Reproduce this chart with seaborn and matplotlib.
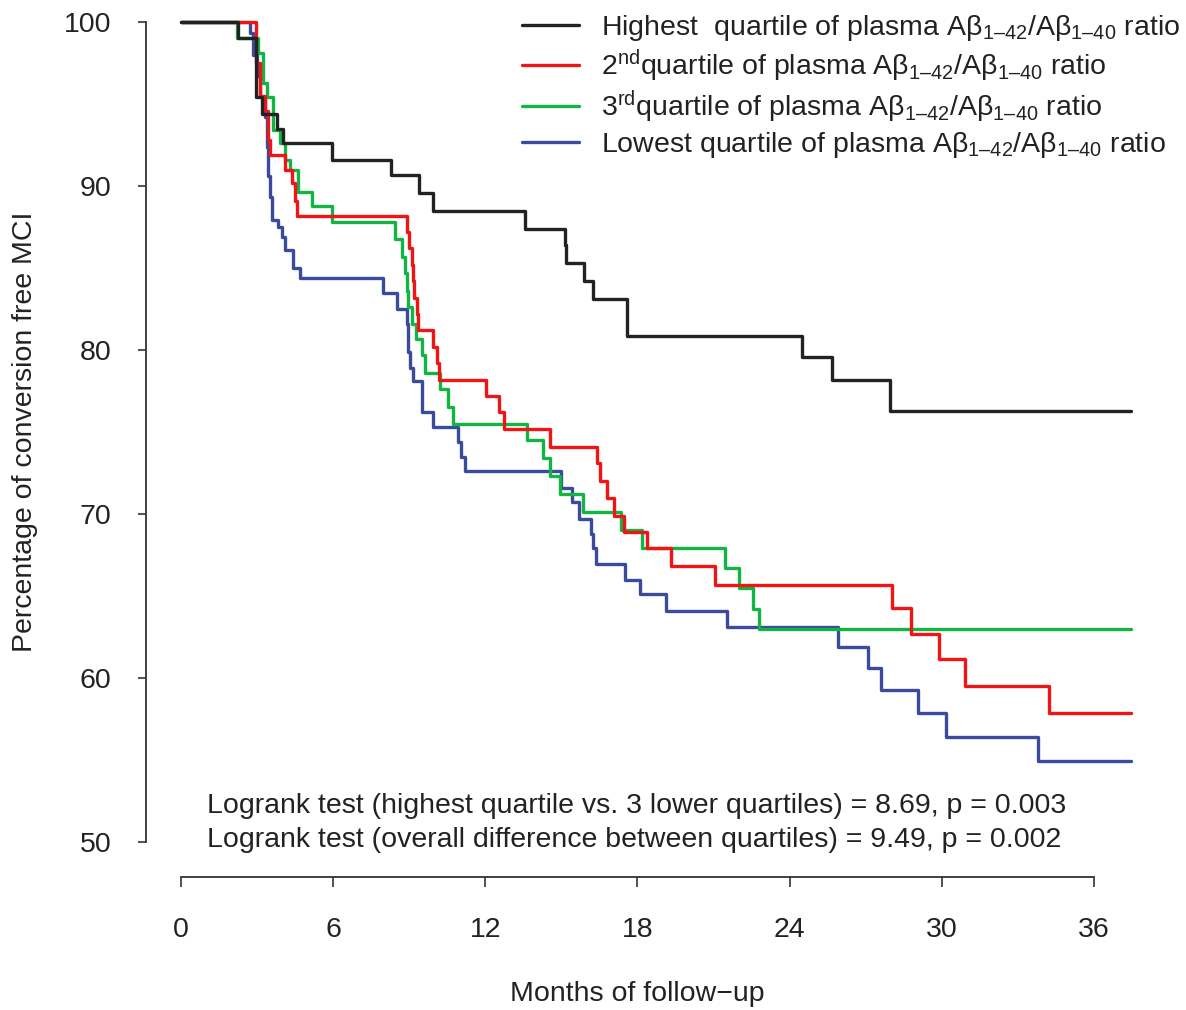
import numpy as np
import pandas as pd
import matplotlib
matplotlib.use("Agg")
import matplotlib.pyplot as plt
import seaborn as sns

# ---------------- data ----------------
END_TIME = 37.47

hi_t = [2.25, 2.97, 3.20, 3.77, 4.03, 5.94, 8.27, 9.40, 9.93, 13.58, 15.14, 15.20,
        15.89, 16.25, 17.57, 24.50, 25.68, 27.95]
hi_s = [99.0, 95.4, 94.4, 93.5, 92.6, 91.6, 90.7, 89.6, 88.5, 87.4, 86.4, 85.3,
        84.2, 83.1, 80.85, 79.6, 78.2, 76.3]

q2_t = [2.96, 3.10, 3.30, 3.45, 3.52, 4.10, 4.36, 4.50, 4.56,
        8.90, 8.99, 9.09, 9.14, 9.17, 9.29, 9.35, 9.92, 10.08, 10.17,
        12.02, 12.54, 12.73,
        14.54, 16.42, 16.54, 16.78, 17.08, 17.47, 18.39, 19.31, 21.05,
        28.05, 28.77, 29.89, 30.90, 34.23]
q2_s = [97.5, 95.5, 94.6, 92.8, 91.9, 91.0, 90.2, 89.1, 88.2,
        87.2, 86.2, 85.2, 84.2, 83.2, 82.2, 81.2, 80.2, 79.2, 78.2,
        77.2, 76.2, 75.2,
        74.1, 73.1, 72.0, 71.0, 69.9, 68.9, 67.9, 66.85, 65.7,
        64.25, 62.7, 61.15, 59.5, 57.85]

q3_t = [2.19, 3.04, 3.22, 3.40, 3.62, 3.90, 4.10, 4.30, 4.63, 5.15, 5.94, 8.43,
        8.70, 8.83, 8.90, 8.96, 9.09, 9.26, 9.49, 9.62, 10.20, 10.54, 10.71,
        13.63, 14.26, 14.57, 14.94, 15.86, 17.34, 18.16, 21.44, 22.00, 22.56, 22.80]
q3_s = [99.0, 98.1, 96.3, 95.4, 93.4, 92.6, 91.6, 91.0, 89.65, 88.75, 87.8, 86.75,
        85.7, 84.7, 83.6, 82.6, 81.6, 80.7, 79.7, 78.6, 77.6, 76.55, 75.5,
        74.5, 73.4, 72.3, 71.2, 70.1, 69.0, 67.9, 66.7, 65.5, 64.2, 63.0]

lo_t = [2.72, 2.85, 3.00, 3.11, 3.31, 3.38, 3.44, 3.51, 3.58, 3.84, 3.97, 4.10,
        4.43, 4.70, 7.97, 8.50, 8.90, 8.96, 9.05, 9.16, 9.49, 9.52, 9.95, 10.93,
        11.06, 11.19, 15.00, 15.43, 15.70, 16.15, 16.25, 16.36, 17.50, 18.09,
        19.14, 21.53, 25.90, 27.10, 27.60, 29.06, 30.18, 33.79]
lo_s = [99.3, 98.0, 96.7, 95.4, 94.2, 92.4, 90.6, 89.35, 87.9, 87.5, 86.9, 86.1,
        85.0, 84.4, 83.45, 82.5, 81.6, 79.9, 78.9, 78.1, 77.15, 76.2, 75.3, 74.4,
        73.5, 72.6, 71.6, 70.75, 69.7, 68.8, 67.9, 66.95, 66.0, 65.1,
        64.1, 63.1, 61.9, 60.6, 59.3, 57.85, 56.4, 54.95]

SUB1 = "$_{1\u201342}$"
SUB2 = "$_{1\u201340}$"
labels = [
    "Highest  quartile of plasma A\u03b2" + SUB1 + "/A\u03b2" + SUB2 + " ratio",
    "2$^{\\mathrm{nd}}$quartile of plasma A\u03b2" + SUB1 + "/A\u03b2" + SUB2 + " ratio",
    "3$^{\\mathrm{rd}}$quartile of plasma A\u03b2" + SUB1 + "/A\u03b2" + SUB2 + " ratio",
    "Lowest quartile of plasma A\u03b2" + SUB1 + "/A\u03b2" + SUB2 + " ratio",
]
colors = ["#222222", "#f01414", "#12b544", "#3a4a9c"]

x_ticks = [0, 6, 12, 18, 24, 30, 36]
y_ticks = [50, 60, 70, 80, 90, 100]

logrank_lines = [
    "Logrank test (highest quartile vs. 3 lower quartiles) = 8.69, p = 0.003",
    "Logrank test (overall difference between quartiles) = 9.49, p = 0.002",
]

# ---------------- build frames ----------------
def make_df(ts, ss):
    t = [0.0] + list(ts) + [END_TIME]
    s = [100.0] + list(ss) + [ss[-1]]
    return pd.DataFrame({"time": t, "surv": s})

series = [(hi_t, hi_s), (q2_t, q2_s), (q3_t, q3_s), (lo_t, lo_s)]
zorders = [5, 4, 3, 2]

# ---------------- style ----------------
sns.set_style("ticks")
plt.rcParams['font.family'] = ['Liberation Sans', 'DejaVu Sans']
plt.rcParams['mathtext.fontset'] = 'custom'
plt.rcParams['mathtext.rm'] = 'Liberation Sans'
plt.rcParams['mathtext.it'] = 'Liberation Sans:italic'
plt.rcParams['mathtext.bf'] = 'Liberation Sans:bold'

FS = 20.5
W, H = 1186, 1010
fig = plt.figure(figsize=(W / 100, H / 100), dpi=100)
ax = fig.add_axes([146 / W, 1 - 877 / H, (1169 - 146) / W, (877 + 11) / H])
ax.set_facecolor("white")

for (ts, ss), lab, col, z in zip(series, labels, colors, zorders):
    d = make_df(ts, ss)
    sns.lineplot(data=d, x="time", y="surv", ax=ax, color=col, lw=2.4,
                 drawstyle="steps-post", estimator=None, sort=False,
                 label=lab, zorder=z)

ax.set_xlim(-1.380, 38.96)
ax.set_ylim(47.87, 102.01)

for s in ["top", "right"]:
    ax.spines[s].set_visible(False)
ax.spines["left"].set_bounds(50, 100)
ax.spines["bottom"].set_bounds(0, 36)
for s in ["left", "bottom"]:
    ax.spines[s].set_color("#333333")
    ax.spines[s].set_linewidth(1.3)

ax.set_xticks(x_ticks)
ax.set_yticks(y_ticks)
ax.set_xticklabels([str(v) for v in x_ticks])
ax.set_yticklabels([str(v) for v in y_ticks])
ax.tick_params(axis="x", length=7.5, width=1.2, color="#333333", pad=21,
               labelsize=FS, labelcolor="#222222")
ax.tick_params(axis="y", length=6, width=1.2, color="#333333", pad=19,
               labelsize=FS, labelcolor="#222222")

ax.set_xlabel("Months of follow\u2212up", fontsize=FS, color="#222222")
ax.xaxis.set_label_coords((637 - 146) / 1023, (877 - 981) / 888)
ax.set_ylabel("Percentage of conversion free MCI", fontsize=FS, color="#222222")
ax.yaxis.set_label_coords((38 - 146) / 1023, (877 - 432) / 888)

leg = ax.legend(loc="upper left", bbox_to_anchor=(522 / W, 1 - 13 / H),
                bbox_transform=fig.transFigure, frameon=False, fontsize=20.5,
                handlelength=2.0, handletextpad=0.78, labelspacing=0.16,
                borderpad=0, borderaxespad=0)
for t in leg.get_texts():
    t.set_color("#222222")

for i, line in enumerate(logrank_lines):
    fig.text(207 / W, 1 - (806 + 34 * i) / H, line, fontsize=FS,
             ha="left", va="center", color="#222222")

fig.savefig("out.png", dpi=100, facecolor="white")
